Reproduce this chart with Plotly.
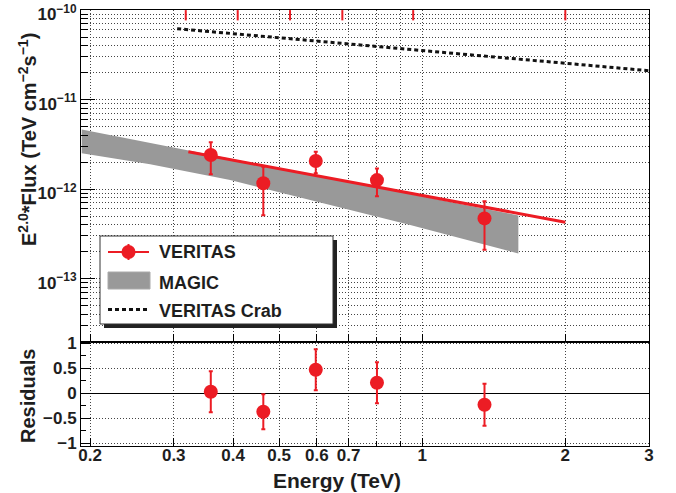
import numpy as np
import plotly.graph_objects as go
from plotly.subplots import make_subplots

# ---------------- data ----------------
veritas_e = [0.359, 0.463, 0.597, 0.803, 1.352]
veritas_flux = [2.40e-12, 1.16e-12, 2.06e-12, 1.26e-12, 4.7e-13]
veritas_err_up = [0.93e-12, 0.61e-12, 0.55e-12, 0.44e-12, 2.6e-13]
veritas_err_down = [0.94e-12, 0.65e-12, 0.56e-12, 0.43e-12, 2.6e-13]

fit_e = [0.322, 2.0]
fit_flux = [2.61e-12, 4.26e-13]

bin_edges = [0.318, 0.409, 0.527, 0.679, 0.957, 2.0]

crab_e = [0.305, 3.0]
crab_flux = [6.2e-11, 2.1e-11]

magic_e = [0.1921, 0.2676, 0.3943, 0.5536, 0.9435, 1.593]
magic_upper = [4.64e-12, 3.29e-12, 2.19e-12, 1.53e-12, 8.8e-13, 5.08e-13]
magic_lower = [2.51e-12, 1.89e-12, 1.26e-12, 8.07e-13, 3.96e-13, 1.91e-13]

resid = [0.03, -0.37, 0.47, 0.21, -0.23]
resid_err = [0.41, 0.35, 0.41, 0.41, 0.42]

x_tick_vals = [0.2, 0.3, 0.4, 0.5, 0.6, 0.7, 1, 2, 3]
x_tick_text = ["0.2", "0.3", "0.4", "0.5", "0.6", "0.7", "1", "2", "3"]
x_minor_vals = [0.8, 0.9]
y_tick_vals = [1e-13, 1e-12, 1e-11, 1e-10]
y_tick_text = ["10<sup>\u221213</sup>", "10<sup>\u221212</sup>", "10<sup>\u221211</sup>", "10<sup>\u221210</sup>"]
r_tick_vals = [-1, -0.5, 0, 0.5, 1]
r_tick_text = ["\u22121", "\u22120.5", "0", "0.5", "1"]

# ---------------- style ----------------
RED = "rgb(236,28,36)"
GRAY = "rgb(153,153,153)"
FONT = "Liberation Sans"
TXT = "#1e1e1e"
GRIDC = "#444444"
GDASH = "1px,2px"

fig = make_subplots(rows=2, cols=1, shared_xaxes=True, vertical_spacing=0,
                    row_heights=[332 / 436, 104 / 436])

# MAGIC band
fig.add_trace(go.Scatter(x=magic_e + magic_e[::-1], y=magic_upper + magic_lower[::-1],
                         fill="toself", fillcolor=GRAY, line=dict(width=0), mode="lines",
                         hoverinfo="skip"), row=1, col=1)
# Crab
fig.add_trace(go.Scatter(x=crab_e, y=crab_flux, mode="lines",
                         line=dict(color="#111111", width=3, dash="4px,3px")), row=1, col=1)
# Fit
fig.add_trace(go.Scatter(x=fit_e, y=fit_flux, mode="lines",
                         line=dict(color=RED, width=3)), row=1, col=1)
# Bin edge marks at top
be_x, be_y = [], []
for e in bin_edges:
    be_x += [e, e, None]
    be_y += [1e-10, 10 ** (-10.115), None]
fig.add_trace(go.Scatter(x=be_x, y=be_y, mode="lines", line=dict(color=RED, width=2)), row=1, col=1)
# VERITAS points
fig.add_trace(go.Scatter(x=veritas_e, y=veritas_flux, mode="markers",
                         marker=dict(color=RED, size=14, line=dict(width=0)),
                         error_y=dict(type="data", array=veritas_err_up, arrayminus=veritas_err_down,
                                      color=RED, thickness=2, width=2)), row=1, col=1)
# Residuals
fig.add_trace(go.Scatter(x=veritas_e, y=resid, mode="markers",
                         marker=dict(color=RED, size=14, line=dict(width=0)),
                         error_y=dict(type="data", array=resid_err, color=RED, thickness=2, width=2)),
              row=2, col=1)

y_minor = []
for d in range(-14, -10):
    for m in range(2, 10):
        v = m * 10.0 ** d
        if 10 ** -13.709 < v < 1e-10:
            y_minor.append(v)

xcommon = dict(type="log", range=[-0.718, 0.4771], showline=True, mirror=True, linecolor="black",
               linewidth=1, ticks="inside", ticklen=8, tickcolor="black", automargin=False,
               tickvals=x_tick_vals, ticktext=x_tick_text, ticklabeloverflow="allow",
               showgrid=True, gridcolor=GRIDC, griddash=GDASH, gridwidth=1, zeroline=False,
               minor=dict(tickvals=x_minor_vals, showgrid=True, gridcolor=GRIDC, griddash=GDASH,
                          ticks="inside", ticklen=5, tickcolor="black"))
fig.update_xaxes(**xcommon)
fig.update_xaxes(showticklabels=False, row=1, col=1)
fig.update_xaxes(showticklabels=True, ticklabelstandoff=-6,
                 tickfont=dict(family=FONT, size=17, color=TXT, weight="bold"),
                 row=2, col=1)

fig.update_yaxes(type="log", range=[-13.709, -9.999], tickvals=y_tick_vals, ticktext=y_tick_text,
                 tickfont=dict(family=FONT, size=17, color=TXT, weight="bold"), automargin=False,
                 ticklabeloverflow="allow", ticklabelshift=4,
                 showline=True, mirror=True, linecolor="black", linewidth=1,
                 ticks="inside", ticklen=14, tickcolor="black",
                 showgrid=True, gridcolor=GRIDC, griddash=GDASH, zeroline=False,
                 minor=dict(tickvals=y_minor, showgrid=True, gridcolor=GRIDC, griddash=GDASH,
                            ticks="inside", ticklen=7, tickcolor="black"),
                 row=1, col=1)
fig.update_yaxes(range=[-1.054, 1.026], tickvals=r_tick_vals, ticktext=r_tick_text,
                 tickfont=dict(family=FONT, size=17, color=TXT, weight="bold"), automargin=False,
                 ticklabeloverflow="allow",
                 showline=True, mirror=True, linecolor="black", linewidth=1,
                 ticks="inside", ticklen=10, tickcolor="black",
                 showgrid=True, gridcolor=GRIDC, griddash=GDASH,
                 zeroline=True, zerolinecolor="black", zerolinewidth=1,
                 minor=dict(tickvals=[-0.75, -0.25, 0.25, 0.75], ticks="inside", ticklen=5,
                            tickcolor="black", showgrid=False),
                 row=2, col=1)

# ---------------- manual legend (ROOT style) ----------------
L, T, W, H = 81, 10, 568, 436
def px(x):
    return (x - L) / W
def py(y):
    return (T + H - y) / H

shapes = []
shapes.append(dict(type="rect", xref="paper", yref="paper", x0=px(104), x1=px(337), y0=py(328), y1=py(240),
                   fillcolor="#222222", line=dict(width=0), layer="above"))
shapes.append(dict(type="rect", xref="paper", yref="paper", x0=px(100), x1=px(333), y0=py(324), y1=py(236),
                   fillcolor="white", line=dict(color="#333333", width=1), layer="above"))
shapes.append(dict(type="line", xref="paper", yref="paper", x0=px(108), x1=px(149), y0=py(252), y1=py(252),
                   line=dict(color=RED, width=2), layer="above"))
shapes.append(dict(type="line", xref="paper", yref="paper", x0=px(128.5), x1=px(128.5), y0=py(244), y1=py(260),
                   line=dict(color=RED, width=2), layer="above"))
shapes.append(dict(type="circle", xref="paper", yref="paper", x0=px(121.5), x1=px(135.5), y0=py(259), y1=py(245),
                   fillcolor=RED, line=dict(width=0), layer="above"))
shapes.append(dict(type="rect", xref="paper", yref="paper", x0=px(108), x1=px(150), y0=py(289), y1=py(272),
                   fillcolor=GRAY, line=dict(color="rgb(170,170,170)", width=1), layer="above"))
shapes.append(dict(type="line", xref="paper", yref="paper", x0=px(108), x1=px(150), y0=py(309.5), y1=py(309.5),
                   line=dict(color="#111111", width=3, dash="4px,3px"), layer="above"))

annots = []
for label, yc in [("VERITAS", 252), ("MAGIC", 282.5), ("VERITAS Crab", 311)]:
    annots.append(dict(text=label, xref="paper", yref="paper", x=px(157), y=py(yc), xanchor="left",
                       yanchor="middle", showarrow=False,
                       font=dict(family=FONT, size=18, color=TXT, weight="bold")))

annots.append(dict(text="Energy (TeV)", xref="paper", yref="paper", x=px(337), y=py(480),
                   xanchor="center", yanchor="middle", showarrow=False,
                   font=dict(family=FONT, size=21, color=TXT, weight="bold")))
annots.append(dict(text="E<sup>2.0</sup>*Flux (TeV cm<sup>\u22122</sup>s<sup>\u22121</sup>)",
                   xref="paper", yref="paper", x=px(27), y=py(140), textangle=-90,
                   xanchor="center", yanchor="middle", showarrow=False,
                   font=dict(family=FONT, size=20, color=TXT, weight="bold")))
annots.append(dict(text="Residuals", xref="paper", yref="paper", x=px(28), y=py(396), textangle=-90,
                   xanchor="center", yanchor="middle", showarrow=False,
                   font=dict(family=FONT, size=20, color=TXT, weight="bold")))

fig.update_layout(width=676, height=493, margin=dict(l=L, r=676 - L - W, t=T, b=493 - T - H, autoexpand=False),
                  paper_bgcolor="white", plot_bgcolor="white", showlegend=False,
                  shapes=shapes, annotations=annots, font=dict(family=FONT))

fig.write_html("out.html")
